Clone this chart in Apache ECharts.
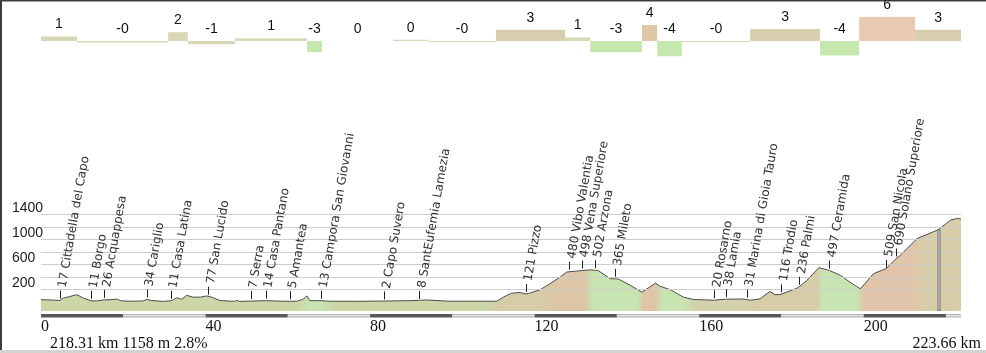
<!DOCTYPE html>
<html>
<head>
<meta charset="utf-8">
<script src="https://cdn.jsdelivr.net/npm/echarts@6/dist/echarts.min.js"></script>
<style>
  html, body { margin: 0; padding: 0; background: #ffffff; }
  #chart { width: 986px; height: 353px; }
</style>
</head>
<body>
<div id="chart"></div>
<script>
// Stage length and the cursor readout
const totalKm = 223.66;
const cursorKm = 218.31;
const cursorElev = 1158;
const cursorGrade = 2.8;

// Elevation profile: distance (km) and altitude (m)
const profileKm = [
  0, 2.2, 4.6, 5.4, 7.0, 8.7, 10.3, 12.2, 13.5, 15.4, 16.8, 18.4, 19.6, 21.6, 24.9, 25.7, 26.9,
  29.7, 31.5, 32.2, 33.0, 34.2, 35.4, 37.0, 38.7, 40.3, 40.7, 41.5, 43.5, 47.0, 47.6, 48.3, 51.0,
  54.6, 58.9, 60.5, 62.2, 63.8, 64.6, 65.4, 68.1, 70.3, 77.6, 83.4, 89.7, 92.0, 93.8, 99.4, 110.8,
  112.4, 114.4, 116.4, 117.9, 118.5, 121.3, 123.7, 126.2, 127.8, 130.2, 131.5, 133.5, 134.7, 135.5,
  138.4, 139.6, 140.4, 143.3, 146.1, 149.4, 150.5, 153.0, 156.2, 158.7, 163.7, 166.5, 170.8, 171.6,
  172.4, 174.8, 177.2, 178.5, 179.9, 183.8, 184.3, 186.2, 189.1, 191.7, 194.4, 197.2, 199.2, 202.4,
  205.5, 207.9, 208.9, 213.0, 215.4, 218.3, 221.1, 222.8, 223.66
];
const profileElev = [
  30, 25, 17, 55, 80, 110, 55, 11, 10, 26, 30, 38, 10, 5, 10, 34, 16,
  3, 11, 30, 60, 35, 100, 70, 70, 90, 80, 70, 16, 3, 18, 3, 7,
  14, 5, 5, 5, 38, 92, 15, 13, 5, 4, 8, 14, 20, 25, 5, 5,
  70, 134, 145, 121, 130, 188, 285, 392, 473, 489, 498, 508, 502, 495,
  366, 365, 360, 258, 150, 296, 245, 190, 70, 32, 22, 38, 40, 31,
  21, 43, 161, 108, 116, 215, 236, 339, 544, 497, 419, 285, 205, 447,
  530, 690, 742, 1011, 1076, 1158, 1307, 1334, 1325
];

// Gradient sections: start km, end km, average gradient (%)
const sectionStart = [0, 8.75, 30.9, 35.7, 47.2, 64.7, 68.3, 85.6, 94.1, 110.6, 127.4, 133.5, 146.1, 149.8, 155.8, 172.4, 189.4, 198.9, 212.5];
const sectionEnd   = [8.75, 30.9, 35.7, 47.2, 64.7, 68.3, 85.6, 94.1, 110.6, 127.4, 133.5, 146.1, 149.8, 155.8, 172.4, 189.4, 198.9, 212.5, 223.66];
const sectionGrade = [1.1, -0.4, 2.2, -0.8, 0.7, -2.8, 0, 0.3, -0.2, 2.8, 0.9, -2.8, 4.0, -3.8, -0.2, 3.0, -3.6, 6.0, 2.8];

// Places along the route
const placeKm = [4.62, 12.16, 15.39, 25.7, 31.53, 40.68, 50.98, 54.63, 60.54, 68.08, 83.4, 91.98,
  117.85, 128.45, 131.46, 134.7, 139.56, 163.7, 166.47, 171.58, 179.92, 184.3, 191.67, 205.45, 207.88];
const placeElev = [17, 11, 26, 34, 11, 77, 7, 14, 5, 13, 2, 8,
  121, 480, 498, 502, 365, 20, 38, 31, 116, 236, 497, 509, 690];
const placeName = ['Cittadella del Capo', 'Borgo', 'Acquappesa', 'Cariglio', 'Casa Latina', 'San Lucido',
  'Serra', 'Casa Pantano', 'Amantea', 'Campora San Giovanni', 'Capo Suvero', 'SantEufemia Lamezia',
  'Pizzo', 'Vibo Valentia', 'Vena Superiore', 'Arzona', 'Mileto', 'Rosarno', 'Lamia',
  'Marina di Gioia Tauro', 'Trodio', 'Palmi', 'Ceramida', 'San Nicola', 'Solano Superiore'];

// Axis labels and grid levels
const altitudeLabels = [200, 600, 1000, 1400];
const altitudeGrid = [200, 400, 600, 800, 1000, 1200, 1400];
const distanceLabels = [0, 40, 80, 120, 160, 200];
const scaleBreaks = [0, 20, 40, 60, 80, 100, 120, 140, 160, 180, 200, 220, 223.66];

const ALT_MIN = -200, ALT_MAX = 1600, ALT_STEP = 200;

// Colour of a gradient class
function gradeColor(g) {
  if (g <= -2.5) return '#c6e7ae';
  if (g < 2.5) return '#d8d8b7';
  if (g < 3.5) return '#d9cfb0';
  if (g < 5) return '#dfc6a6';
  return '#e8c9b1';
}
function gradeText(g) {
  const r = Math.round(Math.abs(g));
  return (g < 0 ? '-' : '') + r;
}

// Fill tint along the route (km, colour)
const fillTint = [
  [0, '#ccd7a8'], [62, '#ccd7a8'], [65.5, '#c9e2b0'], [68, '#c9e2b0'], [71, '#ccd7a8'],
  [108, '#ccd7a8'], [112, '#d6cca8'], [121, '#d6cca8'], [125, '#dcc6a7'], [132, '#dcc6a7'],
  [134.5, '#c8e4b0'], [145, '#c8e4b0'], [146.6, '#dfc4a8'], [149.4, '#dfc4a8'], [151, '#c8e4b0'],
  [156, '#c8e4b0'], [159, '#d4d2ac'], [171, '#d4d2ac'], [174, '#d6cca8'], [188.5, '#d6cca8'],
  [190, '#c8e4b0'], [198.3, '#c8e4b0'], [200, '#e1c5aa'], [212, '#e1c5aa'], [214, '#d8cca8'],
  [223.66, '#d6cdaa']
];

const chart = echarts.init(document.getElementById('chart'), null, { renderer: 'canvas' });

const GRID_LEFT = 41, GRID_W = 920;

const option = {
  animation: false,
  backgroundColor: '#ffffff',
  grid: [
    { left: GRID_LEFT, width: GRID_W, top: 5, height: 52 },
    { left: GRID_LEFT, width: GRID_W, top: 201.8, height: 112.2 }
  ],
  xAxis: [
    { gridIndex: 0, type: 'value', min: 0, max: totalKm, show: false },
    {
      gridIndex: 1, type: 'value', min: 0, max: totalKm, interval: 40,
      axisLine: { show: false }, axisTick: { show: false }, splitLine: { show: false },
      axisLabel: {
        margin: 5, align: 'left', verticalAlign: 'top',
        fontFamily: 'Liberation Serif', fontSize: 16, color: '#111',
        formatter: v => distanceLabels.includes(v) ? String(v) : ''
      }
    }
  ],
  yAxis: [
    { gridIndex: 0, type: 'value', min: -4, max: 9, show: false },
    {
      gridIndex: 1, type: 'value', min: ALT_MIN, max: ALT_MAX, interval: ALT_STEP,
      axisLine: { show: false }, axisTick: { show: false }, splitLine: { show: false },
      axisLabel: {
        margin: 29, align: 'left', verticalAlign: 'bottom', padding: [0, 0, -1, 0],
        fontFamily: 'Liberation Sans', fontSize: 14, color: '#222',
        formatter: v => altitudeLabels.includes(v) ? String(v) : ''
      }
    }
  ],
  series: [
    {
      // gradient bars along the top
      type: 'custom', xAxisIndex: 0, yAxisIndex: 0, clip: false, silent: true,
      data: sectionGrade.map((g, i) => [sectionStart[i], sectionEnd[i], g]),
      renderItem(params, api) {
        const s = api.value(0), e = api.value(1), g = api.value(2);
        const p0 = api.coord([s, 0]);
        const p1 = api.coord([e, g]);
        const top = Math.min(p0[1], p1[1]);
        const h = Math.abs(p1[1] - p0[1]);
        const children = [];
        if (g !== 0) {
          children.push({
            type: 'rect',
            shape: { x: p0[0], y: top, width: p1[0] - p0[0], height: Math.max(h, 1) },
            style: { fill: gradeColor(g) }
          });
        }
        children.push({
          type: 'text', x: (p0[0] + p1[0]) / 2, y: top - 12,
          style: { text: gradeText(g), align: 'center', verticalAlign: 'middle',
            font: '14px "Liberation Sans"', fill: '#111' }
        });
        return { type: 'group', children };
      }
    },
    {
      // altitude profile
      type: 'line', xAxisIndex: 1, yAxisIndex: 1, symbol: 'none', silent: true, z: 2,
      data: profileKm.map((k, i) => [k, profileElev[i]]),
      lineStyle: { color: '#4d4d4d', width: 1 },
      areaStyle: {
        origin: -150, opacity: 1,
        color: new echarts.graphic.LinearGradient(0, 0, 1, 0,
          fillTint.map(t => ({ offset: t[0] / totalKm, color: t[1] })))
      }
    },
    {
      // horizontal altitude grid, drawn over the profile fill
      type: 'custom', xAxisIndex: 1, yAxisIndex: 1, clip: false, silent: true, z: 4,
      data: altitudeGrid.map(v => [totalKm / 2, v]),
      renderItem(params, api) {
        const a = api.coord([0, api.value(1)]);
        const b = api.coord([totalKm, api.value(1)]);
        return { type: 'rect', shape: { x: a[0], y: Math.round(a[1]), width: b[0] - a[0], height: 1 },
          style: { fill: '#cdcdcd' } };
      }
    },
    {
      // cursor position
      type: 'custom', xAxisIndex: 1, yAxisIndex: 1, clip: false, silent: true, z: 6,
      data: [[cursorKm, cursorElev]],
      renderItem(params, api) {
        const p = api.coord([api.value(0), api.value(1)]);
        const b = api.coord([api.value(0), -150]);
        return { type: 'group', children: [
          { type: 'line', shape: { x1: p[0], y1: p[1], x2: b[0], y2: b[1] },
            style: { stroke: '#6a6a6a', lineWidth: 3 } },
          { type: 'line', shape: { x1: p[0], y1: p[1] + 1, x2: b[0], y2: b[1] - 1 },
            style: { stroke: '#e6e6e6', lineWidth: 1 } }
        ] };
      }
    },
    {
      // places with their altitude
      type: 'custom', xAxisIndex: 1, yAxisIndex: 1, clip: false, silent: true, z: 7,
      data: placeKm.map((k, i) => [k, placeElev[i], i]),
      renderItem(params, api) {
        const i = api.value(2);
        const p = api.coord([api.value(0), api.value(1)]);
        const x = Math.round(p[0]) + 0.5;
        return { type: 'group', children: [
          { type: 'line', shape: { x1: x, y1: p[1] - 2, x2: x, y2: p[1] - 10 },
            style: { stroke: '#222', lineWidth: 1 } },
          { type: 'text', x: p[0] + 2.5, y: p[1] - 13, rotation: 80 * Math.PI / 180,
            style: { text: placeElev[i] + ' ' + placeName[i], align: 'left', verticalAlign: 'middle',
              font: '12px "DejaVu Sans"', fill: '#333' } }
        ] };
      }
    },
    {
      // distance scale bar
      type: 'custom', xAxisIndex: 1, yAxisIndex: 1, clip: false, silent: true, z: 5,
      data: scaleBreaks.slice(0, -1).map((k, i) => [k, scaleBreaks[i + 1], i]),
      renderItem(params, api) {
        const a = api.coord([api.value(0), -200]);
        const b = api.coord([api.value(1), -200]);
        const dark = api.value(2) % 2 === 0;
        const y = 314;
        if (dark) {
          return { type: 'rect', shape: { x: a[0], y: y, width: b[0] - a[0], height: 3.5 },
            style: { fill: '#595959' } };
        }
        return { type: 'group', children: [
          { type: 'rect', shape: { x: a[0], y: y, width: b[0] - a[0], height: 3.5 },
            style: { fill: '#b4b4b4' } },
          { type: 'rect', shape: { x: a[0], y: y + 1.2, width: b[0] - a[0], height: 1.1 },
            style: { fill: '#f4f4f4' } }
        ] };
      }
    }
  ],
  graphic: [
    { type: 'text', left: 50, top: 336,
      style: { text: cursorKm.toFixed(2) + ' km ' + cursorElev + ' m ' + cursorGrade + '%',
        font: '16px "Liberation Serif"', fill: '#111' } },
    { type: 'text', right: 5, top: 336,
      style: { text: totalKm.toFixed(2) + ' km', font: '16px "Liberation Serif"', fill: '#111' } },
    { type: 'rect', left: 0, top: 0, shape: { width: 986, height: 1.5 }, style: { fill: '#3c3c3c' } },
    { type: 'rect', left: 0, top: 0, shape: { width: 2, height: 353 }, style: { fill: '#3c3c3c' } },
    { type: 'rect', left: 0, top: 350, shape: { width: 986, height: 3 }, style: { fill: '#d4d2cc' } }
  ]
};

chart.setOption(option);
</script>
</body>
</html>
